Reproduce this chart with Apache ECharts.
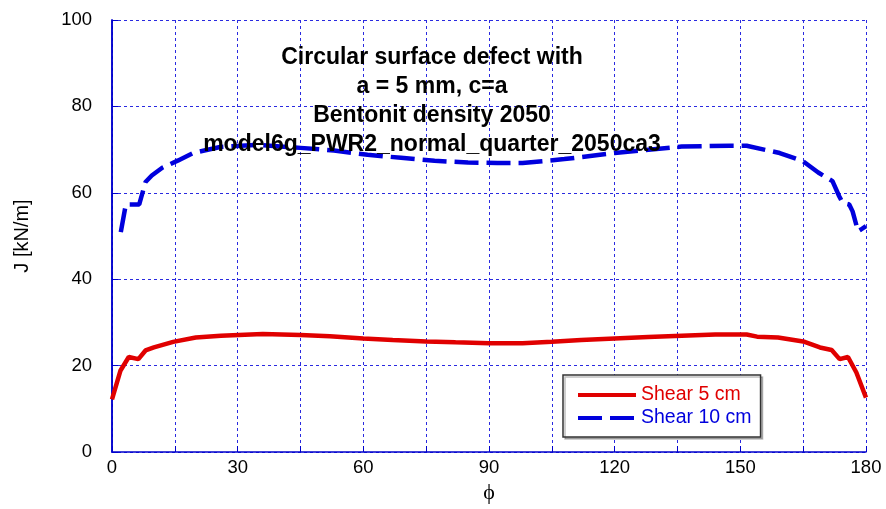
<!DOCTYPE html>
<html>
<head>
<meta charset="utf-8">
<script src="https://cdn.jsdelivr.net/npm/echarts@6/dist/echarts.min.js"></script>
<style>
  html, body { margin: 0; padding: 0; background: #fff; }
  #chart { width: 886px; height: 509px; }
</style>
</head>
<body>
<div id="chart"></div>
<script>
// J along the crack front, angle phi in degrees
const phiShear5 = [0, 2, 4, 6.3, 8, 10, 14.6, 20, 26, 36, 45, 52, 60, 67, 75, 82, 90, 98, 105, 112, 120, 128, 136, 144, 151.5, 154, 159, 165, 169, 171.8, 173.7, 175.7, 177.7, 180];
const jShear5   = [12.2, 18.8, 22.0, 21.5, 23.5, 24.2, 25.5, 26.5, 26.9, 27.3, 27.1, 26.8, 26.3, 25.9, 25.6, 25.4, 25.2, 25.2, 25.5, 25.9, 26.3, 26.6, 26.9, 27.2, 27.2, 26.7, 26.5, 25.6, 24.2, 23.6, 21.5, 22.0, 18.4, 12.6];

const phiShear10 = [2.1, 3.3, 6.5, 8, 9.5, 12, 15.8, 19.4, 25.8, 34.5, 45, 53, 61, 69, 77, 85, 92, 98, 108, 120, 136, 147.5, 151.5, 159.4, 165, 168.6, 172, 173.6, 174.4, 176, 176.8, 178.1, 178.8, 180];
const jShear10   = [50.9, 57.3, 57.3, 62.5, 64.0, 65.8, 67.5, 69.2, 70.6, 71.1, 70.4, 69.8, 68.8, 68.1, 67.4, 67.0, 66.9, 66.9, 67.8, 69.2, 70.7, 70.9, 70.9, 69.2, 67.3, 64.7, 62.7, 59.2, 57.7, 57.3, 55.7, 51.1, 51.5, 52.3];

const seriesNames = ['Shear 5 cm', 'Shear 10 cm'];
const titleLines = [
  'Circular surface defect with',
  'a = 5 mm, c=a',
  'Bentonit density 2050',
  'model6g_PWR2_normal_quarter_2050ca3'
];

const RED = '#e00000';
const BLUE = '#0000dd';
const FRAME = '#0000cc';
const FONT = '"Liberation Sans", Arial, sans-serif';

const zip = (xs, ys) => xs.map((x, i) => [x, ys[i]]);

const gridLine = { show: true, lineStyle: { color: '#2a2ae0', width: 1, type: [3, 3] } };

const chart = echarts.init(document.getElementById('chart'), null, { renderer: 'canvas' });
chart.setOption({
  animation: false,
  backgroundColor: '#ffffff',
  textStyle: { fontFamily: FONT },
  grid: { left: 112, right: 20, top: 20, bottom: 56, containLabel: false },
  xAxis: [{
    type: 'value', min: 0, max: 180, interval: 15,
    name: 'ϕ', nameLocation: 'middle', nameGap: 30,
    nameTextStyle: { color: '#000', fontSize: 22, fontFamily: '"Liberation Serif", serif' },
    axisLine: { show: true, onZero: false, lineStyle: { color: FRAME, width: 1.5 } },
    axisTick: { show: true, inside: true, length: 6, lineStyle: { color: FRAME } },
    axisLabel: {
      color: '#000', fontSize: 18.5, margin: 6,
      formatter: v => (v % 30 === 0 ? String(v) : '')
    },
    splitLine: gridLine
  }],
  yAxis: [{
    type: 'value', min: 0, max: 100, interval: 20,
    name: 'J [kN/m]', nameLocation: 'middle', nameGap: 80, nameRotate: 90,
    nameTextStyle: { color: '#000', fontSize: 20 },
    axisLine: { show: true, onZero: false, lineStyle: { color: FRAME, width: 1.5 } },
    axisTick: { show: true, inside: true, length: 6, lineStyle: { color: FRAME } },
    axisLabel: { color: '#000', fontSize: 18.5, margin: 20 },
    splitLine: gridLine
  }, {
    type: 'value', min: 0, max: 100, interval: 20, position: 'right',
    axisLine: { show: true, lineStyle: { color: FRAME, width: 1.5 } },
    axisTick: { show: false }, axisLabel: { show: false }, splitLine: { show: false }
  }],
  legend: {
    orient: 'vertical',
    left: 563, top: 375,
    padding: [10, 9, 9, 13],
    itemGap: 3,
    itemWidth: 58, itemHeight: 14,
    backgroundColor: '#ffffff',
    borderColor: '#333333', borderWidth: 1.5,
    shadowColor: 'rgba(0,0,0,0.25)', shadowOffsetX: 2, shadowOffsetY: 2,
    itemStyle: { opacity: 0 },
    lineStyle: { width: 4 },
    textStyle: { fontSize: 19.5 },
    data: [
      { name: seriesNames[0], textStyle: { color: RED } },
      { name: seriesNames[1], textStyle: { color: BLUE } }
    ]
  },
  graphic: titleLines.map((t, i) => ({
    type: 'text', z: 100,
    style: {
      text: t, x: 432, y: 58 + i * 29,
      textAlign: 'center', textVerticalAlign: 'middle',
      font: 'bold 23px ' + FONT, fill: '#000'
    }
  })),
  series: [{
    name: seriesNames[0], type: 'line',
    data: zip(phiShear5, jShear5),
    symbol: 'none', smooth: false,
    lineStyle: { color: RED, width: 4.5 },
    itemStyle: { color: RED }
  }, {
    name: seriesNames[1], type: 'line',
    data: zip(phiShear10, jShear10),
    symbol: 'none', smooth: false,
    lineStyle: { color: BLUE, width: 4.5, type: [24, 8] },
    itemStyle: { color: BLUE }
  }]
});
</script>
</body>
</html>
